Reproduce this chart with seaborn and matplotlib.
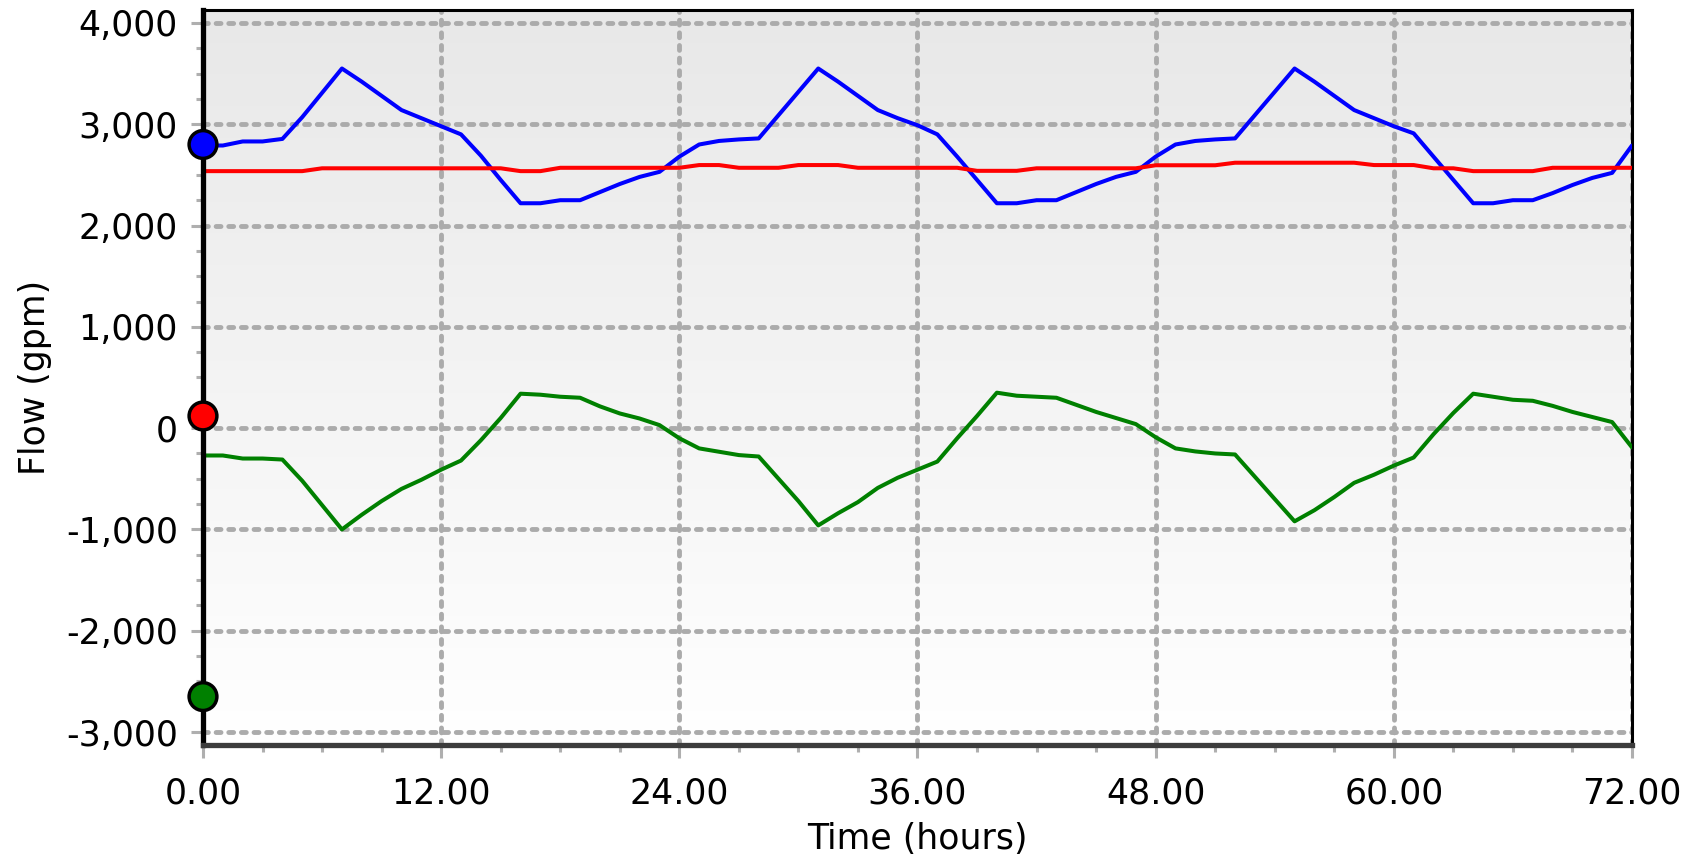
import numpy as np
import pandas as pd
import seaborn as sns
import matplotlib.pyplot as plt
from matplotlib.colors import LinearSegmentedColormap
from matplotlib.ticker import MultipleLocator, FuncFormatter

# time axis, hourly samples
hours = list(range(73))

blue_flow = [2790, 2790, 2830, 2830, 2855, 3070, 3310, 3550, 3420, 3280, 3140, 3060,
             2980, 2900, 2690, 2450, 2220, 2220, 2250, 2250, 2330, 2410, 2480, 2530,
             2680, 2800, 2835, 2850, 2860, 3090, 3320, 3550, 3420, 3280, 3140, 3060,
             2990, 2900, 2680, 2450, 2220, 2220, 2250, 2250, 2330, 2410, 2480, 2530,
             2680, 2800, 2835, 2850, 2860, 3090, 3320, 3550, 3420, 3280, 3140, 3060,
             2980, 2910, 2680, 2450, 2220, 2220, 2250, 2250, 2320, 2400, 2470, 2520,
             2790]

red_flow = [2537, 2537, 2537, 2537, 2537, 2537, 2565, 2565, 2565, 2565, 2565, 2565,
            2565, 2565, 2565, 2565, 2537, 2537, 2570, 2570, 2570, 2570, 2570, 2570,
            2570, 2597, 2597, 2570, 2570, 2570, 2597, 2597, 2597, 2570, 2570, 2570,
            2570, 2570, 2570, 2540, 2540, 2540, 2565, 2565, 2565, 2565, 2565, 2565,
            2595, 2595, 2595, 2595, 2620, 2620, 2620, 2620, 2620, 2620, 2620, 2597,
            2597, 2597, 2565, 2565, 2537, 2537, 2537, 2537, 2570, 2570, 2570, 2570,
            2570]

green_flow = [-270, -270, -300, -300, -310, -520, -760, -1000, -855, -720, -600, -510,
              -410, -320, -120, 100, 340, 330, 310, 300, 215, 145, 95, 30,
              -100, -200, -233, -266, -280, -500, -720, -960, -840, -730, -590, -490,
              -410, -330, -100, 120, 350, 320, 310, 300, 230, 160, 100, 40,
              -90, -200, -230, -250, -260, -480, -700, -920, -810, -680, -540, -460,
              -370, -290, -60, 150, 340, 310, 280, 270, 220, 160, 110, 60,
              -190]

# initial values shown as dots on the y axis
start_values = [2800, 120, -2650]
series_names = ['blue', 'red', 'green']
series_colors = ['#0000ff', '#ff0000', '#008000']

df = pd.DataFrame({
    'Time': hours * 3,
    'Flow': blue_flow + red_flow + green_flow,
    'series': ['blue'] * len(hours) + ['red'] * len(hours) + ['green'] * len(hours),
})

sns.set_style('white')
plt.rcParams['font.family'] = ['DejaVu Sans']
plt.rcParams['text.color'] = 'black'
plt.rcParams['axes.labelcolor'] = 'black'
plt.rcParams['xtick.labelcolor'] = 'black'
plt.rcParams['ytick.labelcolor'] = 'black'

fig = plt.figure(figsize=(17.03, 8.59), dpi=100)
ax = fig.add_axes([0.1192, 0.1327, 0.8391, 0.8557])

# grey-to-white background
grad = np.linspace(0, 1, 256).reshape(-1, 1)
bg_cmap = LinearSegmentedColormap.from_list('bg', ['#e8e8e8', '#ffffff'])
ax.imshow(grad, cmap=bg_cmap, aspect='auto', extent=[0, 1, 0, 1],
          transform=ax.transAxes, zorder=0)

sns.lineplot(data=df, x='Time', y='Flow', hue='series',
             palette=dict(zip(series_names, series_colors)),
             linewidth=2.9, legend=False, ax=ax, zorder=3)

ax.scatter([0] * 3, start_values, s=400, c=series_colors, edgecolors='black',
           linewidths=2.5, zorder=6, clip_on=False)

ax.set_xlim(0, 72)
ax.set_ylim(-3128, 4128)
ax.xaxis.set_major_locator(MultipleLocator(12))
ax.xaxis.set_minor_locator(MultipleLocator(3))
ax.yaxis.set_major_locator(MultipleLocator(1000))
ax.yaxis.set_minor_locator(MultipleLocator(250))
ax.xaxis.set_major_formatter(FuncFormatter(lambda v, p: f'{v:.2f}'))
ax.yaxis.set_major_formatter(FuncFormatter(lambda v, p: f'{v:,.0f}'))

ax.set_axisbelow(True)
ax.grid(True, which='major', color='#ababab', linewidth=3.5,
        linestyle=(0, (1.0, 1.6)), dash_capstyle='round')

ax.tick_params(axis='both', which='both', bottom=True, left=True,
               color='#afafaf', width=2.2, direction='out')
ax.tick_params(axis='both', which='major', length=9, labelsize=25, pad=9)
ax.tick_params(axis='x', which='major', pad=14)
ax.tick_params(axis='both', which='minor', length=5)

ax.spines['left'].set(color='black', linewidth=3.8, zorder=5)
ax.spines['bottom'].set(color='#3c3c3c', linewidth=3.8, zorder=5)
ax.spines['top'].set(color='black', linewidth=2.2)
ax.spines['right'].set(color='black', linewidth=2.2)

ax.set_xlabel('Time (hours)', fontsize=25, labelpad=8)
ax.set_ylabel('Flow (gpm)', fontsize=25, labelpad=10)

plt.savefig('out.png', dpi=100)
